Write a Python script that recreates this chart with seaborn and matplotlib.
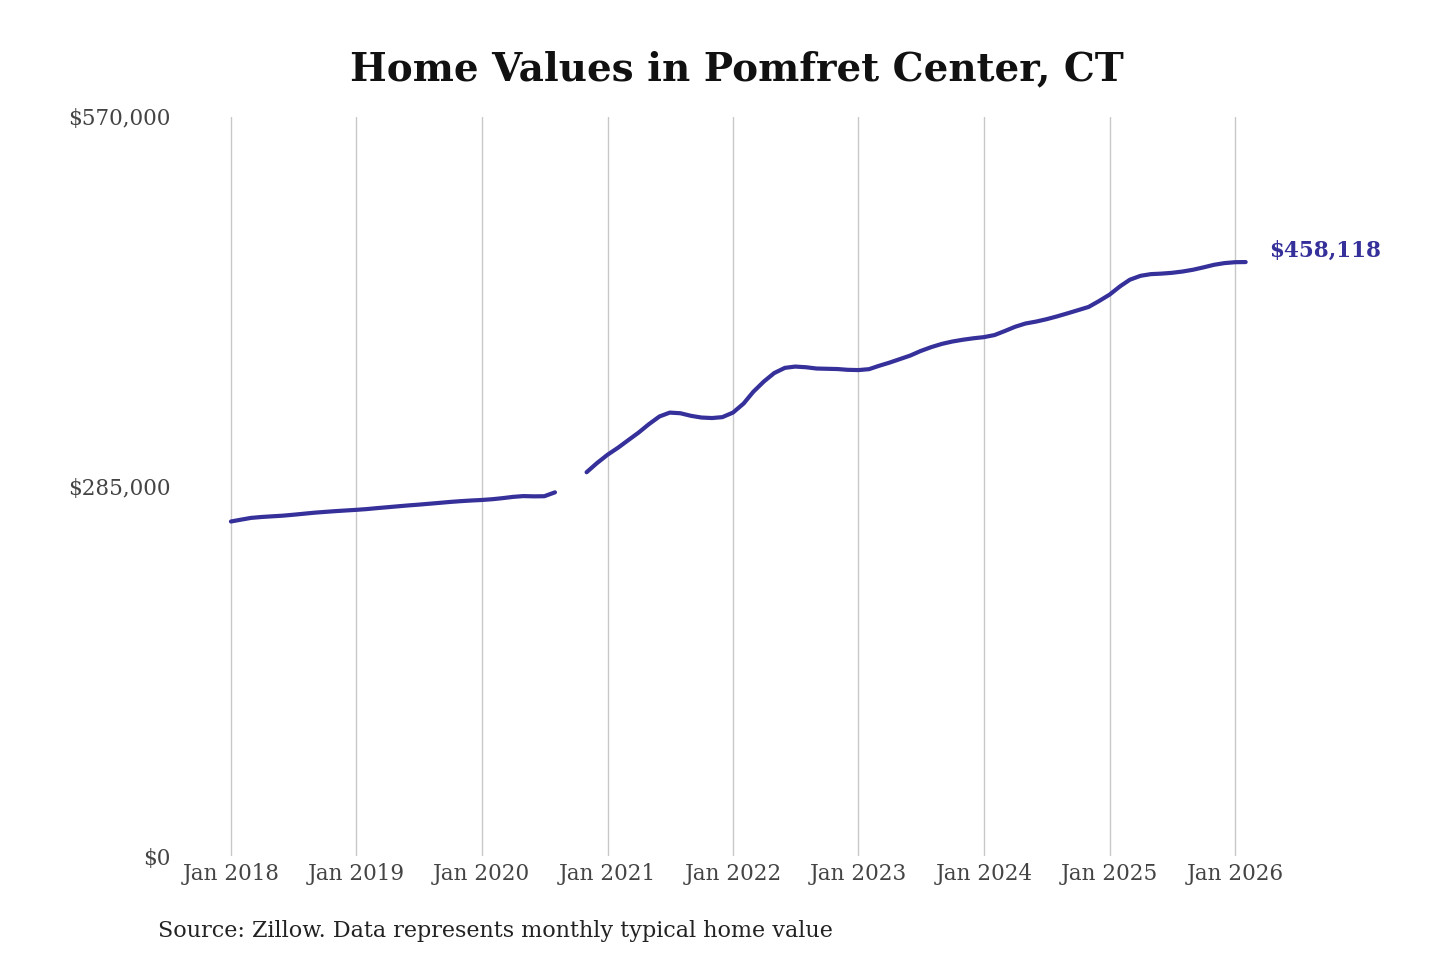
import pandas as pd
import numpy as np
import matplotlib
matplotlib.use("Agg")
import matplotlib.pyplot as plt
import matplotlib.dates as mdates
from matplotlib.ticker import FuncFormatter
import seaborn as sns

# monthly typical home value, Jan 2018 .. Feb 2026 (Sep/Oct 2020 missing)
values_2018 = [258000, 259500, 260800, 261500, 262000, 262500, 263200, 264000, 264800, 265400, 266000, 266500]
values_2019 = [267000, 267600, 268300, 269000, 269700, 270400, 271000, 271700, 272400, 273100, 273700, 274200]
values_2020 = [274600, 275200, 276000, 277000, 277600, 277400, 277500, 280500, np.nan, np.nan, 296000, 303000]
values_2021 = [309500, 315000, 320500, 326500, 333000, 339000, 342000, 341500, 339500, 338200, 337800, 338500]
values_2022 = [342000, 349000, 358000, 366000, 372500, 376500, 377500, 377000, 376000, 375800, 375600, 375000]
values_2023 = [374800, 375500, 378000, 380500, 383200, 386000, 389500, 392500, 395000, 396800, 398200, 399300]
values_2024 = [400200, 401800, 404800, 408200, 410700, 412200, 414000, 416200, 418600, 421000, 423500, 428000]
values_2025 = [433000, 439500, 444500, 447500, 448800, 449200, 449800, 450800, 452200, 454000, 456000, 457300]
values_2026 = [458000, 458118]

home_values = (values_2018 + values_2019 + values_2020 + values_2021 + values_2022
               + values_2023 + values_2024 + values_2025 + values_2026)
months = pd.date_range("2018-01-01", periods=len(home_values), freq="MS")

y_ticks = [0, 285000, 570000]
x_ticks = pd.date_range("2018-01-01", "2026-01-01", freq="YS")
last_label = "$458,118"

df = pd.DataFrame({"month": months, "value": home_values})

line_color = "#35309a"
text_color = "#444444"

sns.set_style("white")
plt.rcParams["font.family"] = ["DejaVu Serif", "DejaVu Sans"]

fig = plt.figure(figsize=(14.4, 9.6), dpi=100)
ax = fig.add_axes([200 / 1440, 1 - 856 / 960, (1290 - 200) / 1440, (856 - 117) / 960])

# draw each contiguous run separately so the gap stays open
df["seg"] = df["value"].isna().cumsum()
for _, part in df.dropna().groupby("seg"):
    sns.lineplot(data=part, x="month", y="value", ax=ax, color=line_color,
                 linewidth=3, estimator=None, legend=False)

ax.set_ylim(0, 570000)
ax.set_xlim(mdates.date2num(pd.Timestamp("2017-10-03")), mdates.date2num(pd.Timestamp("2026-06-10")))
ax.set_yticks(y_ticks)
ax.set_xticks(x_ticks)
ax.yaxis.set_major_formatter(FuncFormatter(lambda v, p: f"${v:,.0f}"))
ax.xaxis.set_major_formatter(mdates.DateFormatter("%b %Y"))
ax.grid(axis="x", color="#c8c8c8", linewidth=1)
ax.grid(axis="y", visible=False)
for s in ax.spines.values():
    s.set_visible(False)
ax.set_xlabel("")
ax.set_ylabel("")
ax.tick_params(axis="x", length=0, pad=5, labelsize=15.5, labelcolor=text_color)
ax.tick_params(axis="y", length=0, pad=21, labelsize=15.5, labelcolor=text_color)

last = df.dropna().iloc[-1]
ax.annotate(last_label, xy=(last["month"], last["value"]), xytext=(17, 8),
            textcoords="offset points", fontsize=15.5, fontweight="bold",
            color=line_color, va="center", ha="left")

fig.text(0.512, 0.928, "Home Values in Pomfret Center, CT", ha="center", va="center",
         fontsize=28, fontweight="bold", color="#111111")
fig.text(158 / 1440, 1 - 931 / 960, "Source: Zillow. Data represents monthly typical home value",
         ha="left", va="center", fontsize=16, color="#222222")

fig.savefig("out.png", dpi=100)
